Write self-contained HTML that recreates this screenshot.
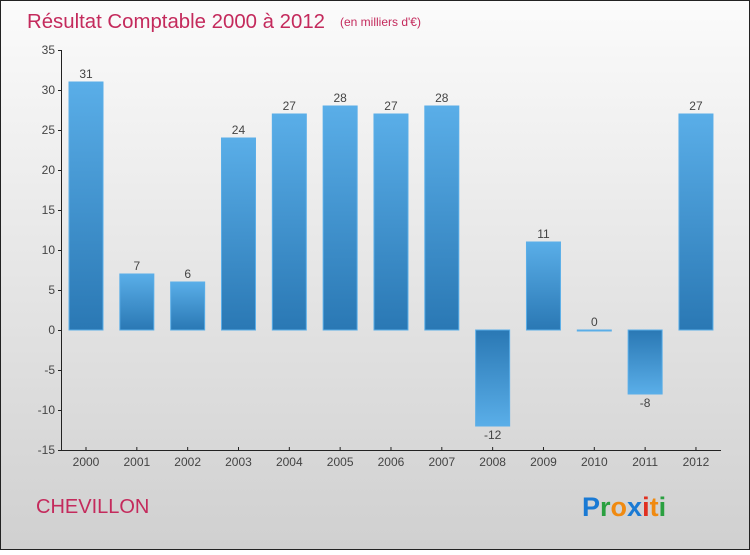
<!DOCTYPE html>
<html><head><meta charset="utf-8"><style>
body{margin:0;width:750px;height:550px;overflow:hidden;font-family:"Liberation Sans","DejaVu Sans",sans-serif}
</style></head><body>
<svg width="750" height="550" xmlns="http://www.w3.org/2000/svg">
<defs>
<linearGradient id="bg" x1="0" y1="0" x2="0" y2="1"><stop offset="0" stop-color="#fbfbfb"/><stop offset="1" stop-color="#d0d0d0"/></linearGradient>
<linearGradient id="gp" x1="0" y1="0" x2="0" y2="1"><stop offset="0" stop-color="#5aaee8"/><stop offset="1" stop-color="#2a78b4"/></linearGradient>
<linearGradient id="gn" x1="0" y1="0" x2="0" y2="1"><stop offset="0" stop-color="#2a78b4"/><stop offset="1" stop-color="#5aaee8"/></linearGradient>
</defs>
<rect x="0.5" y="0.5" width="749" height="549" fill="url(#bg)" stroke="#222"/>
<text x="27" y="28" font-size="20" fill="#c42a5c" textLength="298" lengthAdjust="spacingAndGlyphs">Résultat Comptable 2000 à 2012</text>
<text x="340" y="26" font-size="12" fill="#c42a5c">(en milliers d'€)</text>
<g id="axes"></g><g id="bars"></g>
<text x="36" y="513" font-size="20" fill="#c42a5c">CHEVILLON</text>
<text x="582" y="516" font-size="27" font-weight="bold"><tspan fill="#1a7ad4">P</tspan><tspan fill="#2aa040">r</tspan><tspan fill="#f08a10">o</tspan><tspan fill="#1a7ad4">x</tspan><tspan fill="#e03020">i</tspan><tspan fill="#f08a10">t</tspan><tspan fill="#2aa040">i</tspan></text>
</svg>
<script>
const years=["2000","2001","2002","2003","2004","2005","2006","2007","2008","2009","2010","2011","2012"];
const values=[31,7,6,24,27,28,27,28,-12,11,0,-8,27];
const yTicks=[35,30,25,20,15,10,5,0,-5,-10,-15];
const NS="http://www.w3.org/2000/svg";
const y=v=>330-v*8;
const x=i=>86+i*50.83;
function mk(t,a,p){const e=document.createElementNS(NS,t);for(const k in a)e.setAttribute(k,a[k]);p.appendChild(e);return e;}
const ax=document.getElementById('axes'),bs=document.getElementById('bars');
let l=mk('line',{x1:61.5,y1:y(35),x2:61.5,y2:y(-15),stroke:'#222'},ax);


l=mk('line',{x1:61,y1:450.5,x2:721,y2:450.5,stroke:'#222'},ax);


yTicks.forEach(v=>{
 mk('line',{x1:58,y1:y(v)+.5,x2:62,y2:y(v)+.5,stroke:'#222'},ax);
 const t=mk('text',{x:55,y:y(v)+4,'font-size':12,fill:'#444','text-anchor':'end'},ax);t.textContent=v;
 
 
});
years.forEach((yr,i)=>{
 mk('line',{x1:x(i),y1:447,x2:x(i),y2:451,stroke:'#222'},ax);
 const t=mk('text',{x:x(i),y:466,'font-size':12,fill:'#444','text-anchor':'middle'},ax);t.textContent=yr;
 
 
 const v=values[i];
 const top=Math.min(y(v),y(0)),h=Math.max(Math.abs(y(v)-y(0)),1);
 const r=mk('rect',{x:x(i)-17,y:top,width:34,height:h,fill:v>=0?'url(#gp)':'url(#gn)',stroke:'#5aaee8','stroke-width':1},bs);
 
 
 const lb=mk('text',{x:x(i),y:v>=0?y(v)-4:y(v)+13,'font-size':12,fill:'#444','text-anchor':'middle'},bs);lb.textContent=v;
 
 
});
</script>
</body></html>
